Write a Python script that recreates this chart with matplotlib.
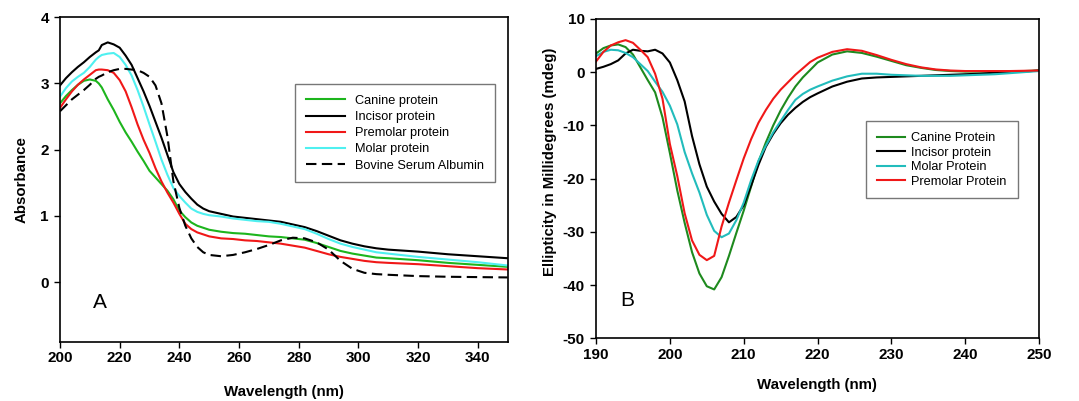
import matplotlib
matplotlib.use("Agg")
import matplotlib.pyplot as plt

plt.rcParams["font.family"] = ["Liberation Sans", "DejaVu Sans"]
plt.rcParams["axes.unicode_minus"] = False

# ---------------- panel A: UV absorbance ----------------
wl_a = [200, 202, 204, 206, 208, 210, 212, 213, 214, 216, 218, 220, 222, 224, 226, 228,
        230, 232, 234, 236, 238, 240, 242, 244, 246, 248, 250, 254, 258, 262, 266, 270,
        274, 278, 282, 286, 290, 294, 298, 302, 306, 310, 320, 330, 340, 350]

canine_a = [2.70, 2.81, 2.90, 2.98, 3.04, 3.06, 3.04, 3.00, 2.94, 2.76, 2.60, 2.42, 2.26, 2.12,
            1.97, 1.83, 1.68, 1.58, 1.48, 1.38, 1.25, 1.08, 0.98, 0.90, 0.85, 0.82, 0.79, 0.76,
            0.74, 0.73, 0.71, 0.69, 0.68, 0.66, 0.64, 0.59, 0.53, 0.47, 0.43, 0.40, 0.37, 0.36,
            0.33, 0.29, 0.26, 0.23]
incisor_a = [2.97, 3.08, 3.17, 3.25, 3.32, 3.40, 3.47, 3.50, 3.58, 3.62, 3.59, 3.54, 3.42, 3.28,
             3.08, 2.88, 2.66, 2.42, 2.18, 1.92, 1.66, 1.48, 1.36, 1.26, 1.17, 1.11, 1.07, 1.03,
             0.99, 0.97, 0.95, 0.93, 0.91, 0.87, 0.83, 0.77, 0.70, 0.63, 0.58, 0.54, 0.51, 0.49,
             0.46, 0.42, 0.39, 0.36]
premolar_a = [2.63, 2.76, 2.88, 2.98, 3.06, 3.13, 3.20, 3.21, 3.21, 3.20, 3.16, 3.05, 2.88, 2.64,
              2.38, 2.15, 1.95, 1.72, 1.52, 1.35, 1.20, 1.03, 0.88, 0.80, 0.75, 0.72, 0.69, 0.66,
              0.65, 0.63, 0.62, 0.60, 0.58, 0.55, 0.52, 0.47, 0.42, 0.38, 0.35, 0.32, 0.30, 0.29,
              0.27, 0.24, 0.21, 0.19]
molar_a = [2.80, 2.93, 3.03, 3.10, 3.16, 3.25, 3.36, 3.40, 3.43, 3.45, 3.46, 3.40, 3.28, 3.12,
           2.90, 2.65, 2.38, 2.12, 1.85, 1.62, 1.42, 1.30, 1.20, 1.11, 1.06, 1.03, 1.01, 0.99,
           0.96, 0.94, 0.92, 0.91, 0.88, 0.84, 0.80, 0.73, 0.65, 0.58, 0.53, 0.49, 0.45, 0.43,
           0.38, 0.34, 0.30, 0.25]
bsa_a = [2.58, 2.67, 2.76, 2.83, 2.90, 2.98, 3.07, 3.10, 3.12, 3.17, 3.20, 3.22, 3.22, 3.21,
         3.20, 3.16, 3.10, 2.97, 2.70, 2.20, 1.52, 1.12, 0.85, 0.66, 0.53, 0.45, 0.41, 0.39,
         0.41, 0.45, 0.50, 0.56, 0.63, 0.67, 0.66, 0.60, 0.49, 0.32, 0.20, 0.14, 0.12, 0.11,
         0.09, 0.08, 0.075, 0.07]

# ---------------- panel B: CD spectra ----------------
wl_b = list(range(190, 221)) + list(range(222, 251, 2))

canine_b = [3.5, 4.5, 5.0, 5.2, 4.7, 3.3, 0.9, -1.5, -3.8, -8.5, -15.2, -22.2, -28.3, -33.8,
            -37.8, -40.2, -40.8, -38.5, -34.5, -30.2, -26.0, -21.5, -16.8, -13.2, -10.0, -7.2,
            -4.8, -2.7, -1.0, 0.4, 1.8,
            3.3, 3.9, 3.6, 2.9, 2.1, 1.3, 0.8, 0.4, 0.2, 0.1, 0.1, 0.1, 0.2, 0.2, 0.3]
incisor_b = [0.6, 1.0, 1.5, 2.2, 3.5, 4.2, 4.0, 3.9, 4.2, 3.5, 1.8, -1.5, -5.5, -12.0,
             -17.3, -21.5, -24.3, -26.6, -28.2, -27.2, -25.0, -21.3, -17.4, -14.0, -11.6, -9.6,
             -8.0, -6.7, -5.6, -4.7, -4.0,
             -2.7, -1.8, -1.2, -1.0, -0.9, -0.8, -0.7, -0.6, -0.5, -0.4, -0.3, -0.1, 0.0, 0.1, 0.3]
molar_b = [3.0, 3.8, 4.2, 4.1, 3.6, 2.8, 1.5, 0.2, -1.8, -3.7, -6.3, -9.8, -15.0, -19.0,
           -22.6, -26.8, -29.8, -31.0, -30.3, -27.8, -24.5, -20.3, -16.6, -13.8, -11.3, -9.2,
           -7.1, -5.2, -4.1, -3.3, -2.7,
           -1.6, -0.8, -0.3, -0.3, -0.5, -0.6, -0.7, -0.7, -0.7, -0.6, -0.5, -0.4, -0.2, 0.0, 0.2]
premolar_b = [2.0, 3.8, 5.0, 5.6, 6.0, 5.5, 4.2, 2.8, -0.3, -5.0, -13.5, -19.5, -26.5, -31.6,
              -34.3, -35.3, -34.5, -29.0, -24.5, -20.3, -16.2, -12.6, -9.5, -7.1, -5.0, -3.3,
              -1.9, -0.5, 0.7, 1.9, 2.7,
              3.8, 4.3, 4.0, 3.2, 2.3, 1.5, 0.9, 0.5, 0.3, 0.2, 0.2, 0.2, 0.2, 0.25, 0.3]

xticks_a = [200, 220, 240, 260, 280, 300, 320, 340]
yticks_a = [0, 1, 2, 3, 4]
xticks_b = [190, 200, 210, 220, 230, 240, 250]
yticks_b = [-50, -40, -30, -20, -10, 0, 10]

fig = plt.figure(figsize=(10.79, 4.01), dpi=100)
ax1 = fig.add_axes([0.0556, 0.148, 0.4149, 0.809])
ax2 = fig.add_axes([0.5524, 0.156, 0.4106, 0.797])

lw = 1.5
ax1.plot(wl_a, canine_a, color="#1db51d", lw=lw, label="Canine protein")
ax1.plot(wl_a, incisor_a, color="black", lw=lw, label="Incisor protein")
ax1.plot(wl_a, premolar_a, color="#f01818", lw=lw, label="Premolar protein")
ax1.plot(wl_a, molar_a, color="#4ff0f0", lw=lw, label="Molar protein")
ax1.plot(wl_a, bsa_a, color="black", lw=lw, ls=(0, (5, 2.6)), label="Bovine Serum Albumin")
ax1.set_xlim(200, 350)
ax1.set_ylim(-0.9, 4)
ax1.set_xticks(xticks_a)
ax1.set_yticks(yticks_a)
ax1.set_xlabel("Wavelength (nm)", fontsize=10.8, fontweight="bold")
ax1.set_ylabel("Absorbance", fontsize=10.8, fontweight="bold")
ax1.xaxis.set_label_coords(0.5, -0.135)
ax1.yaxis.set_label_coords(-0.07, 0.5)
ax1.text(0.089, 0.122, "A", transform=ax1.transAxes, fontsize=15, ha="center", va="center")
leg1 = ax1.legend(loc="upper left", bbox_to_anchor=(0.525, 0.7935), fontsize=9.2,
                  frameon=True, fancybox=False, edgecolor="#555555", handlelength=3.1,
                  handletextpad=0.78, borderpad=0.83, labelspacing=0.33, borderaxespad=0)
leg1.get_frame().set_linewidth(1.0)

ax2.plot(wl_b, canine_b, color="#1e8a1e", lw=lw, label="Canine Protein")
ax2.plot(wl_b, incisor_b, color="black", lw=lw, label="Incisor protein")
ax2.plot(wl_b, molar_b, color="#22bcbc", lw=lw, label="Molar Protein")
ax2.plot(wl_b, premolar_b, color="#f01818", lw=lw, label="Premolar Protein")
ax2.set_xlim(190, 250)
ax2.set_ylim(-50, 10)
ax2.set_xticks(xticks_b)
ax2.set_yticks(yticks_b)
ax2.set_xlabel("Wavelength (nm)", fontsize=10.8, fontweight="bold")
ax2.set_ylabel("Ellipticity in Millidegrees (mdeg)", fontsize=10.8, fontweight="bold")
ax2.xaxis.set_label_coords(0.499, -0.125)
ax2.yaxis.set_label_coords(-0.089, 0.553)
ax2.text(0.07, 0.12, "B", transform=ax2.transAxes, fontsize=15, ha="center", va="center")
leg2 = ax2.legend(loc="upper left", bbox_to_anchor=(0.609, 0.679), fontsize=9.2,
                  frameon=True, fancybox=False, edgecolor="#555555", handlelength=2.2,
                  handletextpad=0.52, borderpad=0.85, labelspacing=0.19, borderaxespad=0)
leg2.get_frame().set_linewidth(1.0)

for ax in (ax1, ax2):
    for sp in ax.spines.values():
        sp.set_linewidth(1.2)
    ax.tick_params(direction="out", length=4, width=1.0, labelsize=11, top=False, right=False)
    ax.tick_params(axis="x", pad=3)
    ax.tick_params(axis="y", pad=4)
    for lab in ax.get_xticklabels() + ax.get_yticklabels():
        lab.set_fontweight("bold")

fig.savefig("out.png", dpi=100)
